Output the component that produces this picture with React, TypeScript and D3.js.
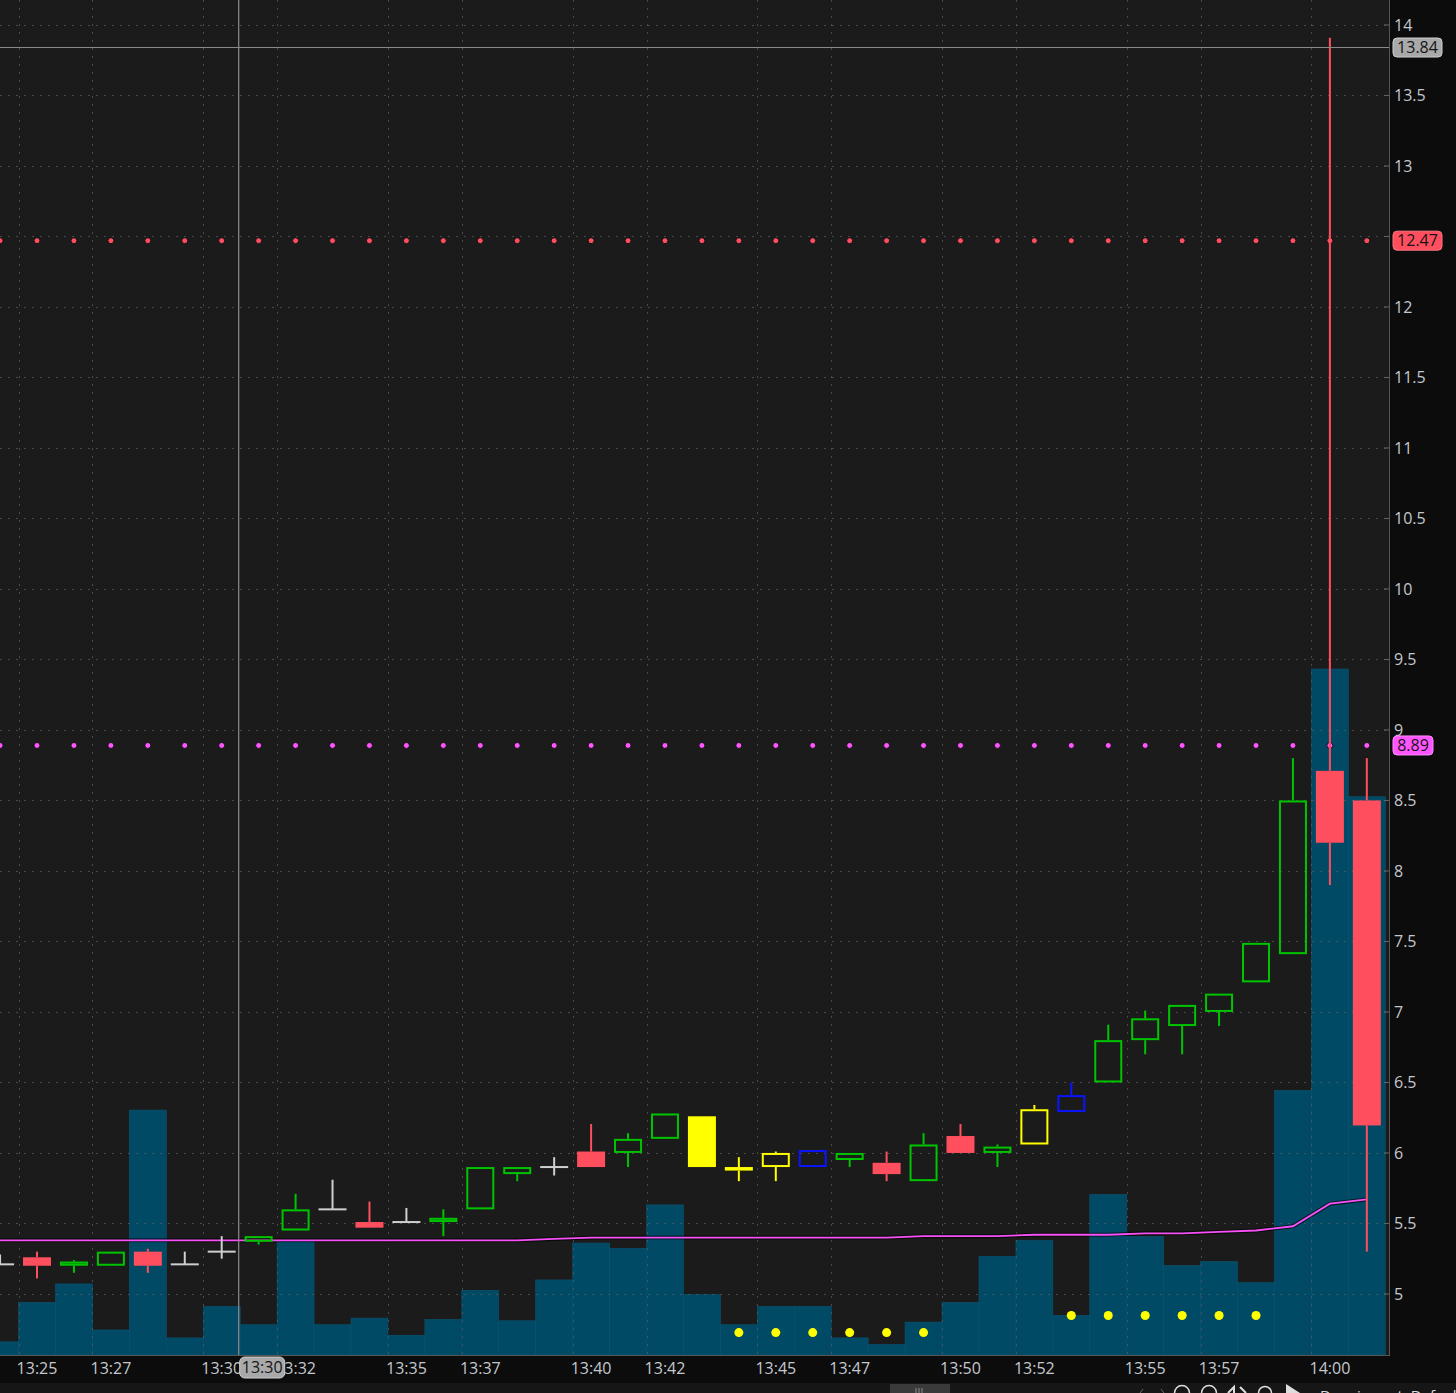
import React from "react";
import * as d3 from "d3";

// one bar per minute, 13:24 .. 14:01
const minutes = [
  "13:24", "13:25", "13:26", "13:27", "13:28", "13:29", "13:30", "13:31", "13:32", "13:33",
  "13:34", "13:35", "13:36", "13:37", "13:38", "13:39", "13:40", "13:41", "13:42", "13:43",
  "13:44", "13:45", "13:46", "13:47", "13:48", "13:49", "13:50", "13:51", "13:52", "13:53",
  "13:54", "13:55", "13:56", "13:57", "13:58", "13:59", "14:00", "14:01",
];
const opens = [
  5.21, 5.26, 5.2, 5.2, 5.3, 5.21, 5.3, 5.37, 5.45, 5.6,
  5.51, 5.51, 5.51, 5.6, 5.85, 5.9, 6.01, 6.0, 6.1, 6.26,
  5.9, 5.9, 5.9, 5.95, 5.93, 5.8, 6.12, 6.0, 6.06, 6.29,
  6.5, 6.8, 6.9, 7.0, 7.21, 7.41, 8.71, 8.5,
];
const highs = [
  5.28, 5.3, 5.24, 5.3, 5.32, 5.3, 5.41, 5.41, 5.71, 5.81,
  5.655, 5.61, 5.6, 5.9, 5.9, 5.97, 6.205, 6.14, 6.28, 6.26,
  5.97, 6.01, 6.02, 6.0, 6.01, 6.14, 6.205, 6.06, 6.34, 6.5,
  6.91, 7.01, 7.05, 7.13, 7.49, 8.8, 13.91, 8.8,
];
const lows = [
  5.21, 5.11, 5.15, 5.2, 5.15, 5.21, 5.25, 5.35, 5.45, 5.6,
  5.47, 5.51, 5.41, 5.6, 5.8, 5.84, 5.9, 5.9, 6.1, 5.9,
  5.8, 5.8, 5.9, 5.9, 5.8, 5.8, 6.0, 5.9, 6.06, 6.29,
  6.5, 6.7, 6.7, 6.9, 7.21, 7.41, 7.9, 5.3,
];
const closes = [
  5.21, 5.2, 5.23, 5.3, 5.2, 5.21, 5.3, 5.41, 5.6, 5.6,
  5.47, 5.51, 5.54, 5.9, 5.9, 5.9, 5.9, 6.1, 6.28, 5.9,
  5.875, 6.0, 6.02, 6.0, 5.85, 6.06, 6.0, 6.045, 6.31, 6.41,
  6.8, 6.955, 7.05, 7.13, 7.49, 8.5, 8.2, 6.195,
];
// g = up, r = down, n = unchanged, y / b = study highlight
const barKinds = [
  "n", "r", "g", "g", "r", "n", "n", "g", "g", "n",
  "r", "n", "g", "g", "g", "n", "r", "g", "g", "y",
  "y", "y", "b", "g", "r", "g", "r", "g", "y", "b",
  "g", "g", "g", "g", "g", "g", "r", "r",
];
// volume, thousands of shares
const volumes = [
  10, 40, 54, 19, 186, 13, 37, 23, 87, 23,
  28, 15, 27, 49, 26, 57, 85, 81, 114, 46,
  23, 37, 37, 13, 8, 25, 40, 75, 87, 30,
  122, 90, 68, 71, 55, 201, 521, 424,
];
// moving average (magenta)
const avgLine = [
  5.38, 5.38, 5.38, 5.38, 5.38, 5.38, 5.38, 5.38, 5.38, 5.38,
  5.38, 5.38, 5.38, 5.38, 5.38, 5.39, 5.4, 5.4, 5.4, 5.4,
  5.4, 5.4, 5.4, 5.4, 5.4, 5.41, 5.41, 5.41, 5.42, 5.42,
  5.42, 5.43, 5.43, 5.44, 5.45, 5.48, 5.64, 5.67,
];
// low-volume markers
const markerMinutes = [
  "13:44", "13:45", "13:46", "13:47", "13:48", "13:49",
  "13:53", "13:54", "13:55", "13:56", "13:57", "13:58",
];
const markerLevels = [17, 17, 17, 17, 17, 17, 30, 30, 30, 30, 30, 30];

const timeLabels = [
  "13:25", "13:27", "13:30", "13:32", "13:35", "13:37", "13:40", "13:42",
  "13:45", "13:47", "13:50", "13:52", "13:55", "13:57", "14:00",
];
const levelPrices = [12.47, 8.89];
const crossPrice = 13.84;
const crossMinute = "13:30";

const W = 1456;
const H = 1393;
const plotRight = 1389;
const plotBottom = 1355;
const font = "'Open Sans', 'DejaVu Sans', sans-serif";

const kindColor = {
  g: "#00c400",
  r: "#ff4f5e",
  n: "#cfcfcf",
  y: "#ffff00",
  b: "#0a14ff",
};
const levelColors = ["#ff4f5e", "#ff55ff"];

export default function App() {
  const x = d3.scaleBand().domain(minutes).range([-18.4, 1385.3]).padding(0);
  const bw = x.bandwidth();
  const cx = (m) => x(m) + bw / 2;
  const y = d3.scaleLinear().domain([4.567, 14.177]).range([plotBottom, 0]);
  const v = d3.scaleLinear().domain([0, 600]).range([plotBottom, plotBottom - 790]);
  // a tick whose label sits fully under a price box is not shown
  const priceTicks = y.ticks(20);
  const hiddenTicks = priceTicks.filter((t) => levelPrices.some((p) => Math.abs(y(t) - y(p)) < 5));

  const avgPath = d3
    .line()
    .x((_, i) => cx(minutes[i]))
    .y((d) => y(d))(avgLine);

  const crossX = cx(crossMinute) + 17;
  const crossY = y(crossPrice);

  const priceBox = (p, fill, stroke) => {
    const label = p.toFixed(2);
    const w = label.length > 4 ? 49 : 40;
    return (
      <g key={"box" + p}>
        <rect x={1393} y={y(p) - 9.5} width={w} height={19} rx={4} fill={fill} stroke={stroke} />
        <text x={1393 + w / 2} y={y(p)} dy="0.35em" textAnchor="middle" fontSize={16} fill="#151515">
          {label}
        </text>
      </g>
    );
  };

  return (
    <svg
      width={W}
      height={H}
      style={{ position: "absolute", left: 0, top: 0, display: "block" }}
      fontFamily={font}
    >
      <defs>
        <clipPath id="plot">
          <rect x={0} y={0} width={plotRight} height={plotBottom} />
        </clipPath>
        <clipPath id="page">
          <rect x={0} y={0} width={W} height={H} />
        </clipPath>
      </defs>
      <rect x={0} y={0} width={W} height={H} fill="#0c0c0c" />
      <rect x={0} y={0} width={plotRight} height={plotBottom} fill="#1b1b1b" />

      <g clipPath="url(#plot)">
        {/* volume */}
        {minutes.map((m, i) => (
          <rect
            key={"v" + m}
            x={x(m)}
            y={v(volumes[i])}
            width={bw}
            height={plotBottom - v(volumes[i])}
            fill="#004a66"
            stroke="#0b5572"
            strokeWidth={0.6}
          />
        ))}

        {/* grid */}
        {priceTicks.map((t) => (
          <line
            key={"gy" + t}
            x1={0}
            x2={plotRight}
            y1={Math.round(y(t)) + 0.5}
            y2={Math.round(y(t)) + 0.5}
            stroke="#5c5c5c"
            strokeOpacity={0.7}
            strokeDasharray="2,6"
          />
        ))}
        {timeLabels.map((m) => (
          <line
            key={"gx" + m}
            x1={Math.round(x(m)) + 0.5}
            x2={Math.round(x(m)) + 0.5}
            y1={0}
            y2={plotBottom}
            stroke="#5c5c5c"
            strokeOpacity={0.7}
            strokeDasharray="2,6"
          />
        ))}

        {/* low-volume markers */}
        {markerMinutes.map((m, i) => (
          <circle key={"mk" + m} cx={cx(m)} cy={v(markerLevels[i])} r={4.5} fill="#ffff00" />
        ))}

        {/* moving average */}
        <path d={avgPath} fill="none" stroke="#000" strokeWidth={4} strokeOpacity={0.6} />
        <path d={avgPath} fill="none" stroke="#f850f8" strokeWidth={1.8} />

        {/* level dots */}
        {levelPrices.map((p, li) =>
          minutes.map((m) => (
            <circle
              key={"lv" + li + m}
              cx={cx(m)}
              cy={y(p)}
              r={3}
              fill={levelColors[li]}
              stroke="#111"
              strokeWidth={1}
            />
          ))
        )}

        {/* candles */}
        {minutes.map((m, i) => {
          const o = opens[i];
          const c = closes[i];
          const col = kindColor[barKinds[i]];
          const top = y(Math.max(o, c));
          const bot = y(Math.min(o, c));
          const xc = cx(m);
          const filled = c < o;
          const flat = o === c;
          return (
            <g key={"c" + m}>
              {y(highs[i]) < top - 0.5 && (
                <line x1={xc} x2={xc} y1={y(highs[i])} y2={top} stroke={col} strokeWidth={2} />
              )}
              {y(lows[i]) > bot + 0.5 && (
                <line x1={xc} x2={xc} y1={bot} y2={y(lows[i])} stroke={col} strokeWidth={2} />
              )}
              {flat ? (
                <line x1={xc - 14} x2={xc + 14} y1={top} y2={top} stroke={col} strokeWidth={2} />
              ) : filled ? (
                <rect x={xc - 14} y={top} width={28} height={Math.max(bot - top, 3)} fill={col} />
              ) : (
                <rect
                  x={xc - 13}
                  y={top + 1}
                  width={26}
                  height={Math.max(bot - top - 2, 1)}
                  fill="none"
                  stroke={col}
                  strokeWidth={2}
                />
              )}
            </g>
          );
        })}

        {/* crosshair */}
        <line x1={0} x2={plotRight} y1={crossY} y2={crossY} stroke="#8c8c8c" strokeWidth={1} />
        <line x1={crossX} x2={crossX} y1={0} y2={plotBottom} stroke="#8c8c8c" strokeWidth={1.2} />
      </g>

      {/* axes frame */}
      <line x1={plotRight + 0.5} x2={plotRight + 0.5} y1={0} y2={plotBottom + 1} stroke="#555" />
      <line x1={0} x2={plotRight} y1={plotBottom + 0.5} y2={plotBottom + 0.5} stroke="#555" />

      {/* price axis */}
      {priceTicks.map((t) => (
        <g key={"py" + t}>
          <line x1={plotRight - 5} x2={plotRight} y1={y(t)} y2={y(t)} stroke="#666" />
          {!hiddenTicks.includes(t) && (
            <text x={1394} y={y(t)} dy="0.35em" fontSize={16} fill="#c4c8cc">
              {String(t)}
            </text>
          )}
        </g>
      ))}
      {priceBox(levelPrices[0], levelColors[0], "#ff7380")}
      {priceBox(levelPrices[1], levelColors[1], "#ff88ff")}
      {priceBox(crossPrice, "#a9a9a9", "#cfcfcf")}

      {/* time axis */}
      {timeLabels.map((m) => (
        <text key={"tx" + m} x={cx(m)} y={1368} dy="0.35em" textAnchor="middle" fontSize={16} fill="#c4c8cc">
          {m}
        </text>
      ))}
      <rect x={crossX + 1} y={1357} width={45} height={21} rx={5} fill="#a9a9a9" stroke="#cfcfcf" />
      <text x={crossX + 23.5} y={1367.5} dy="0.35em" textAnchor="middle" fontSize={16} fill="#151515">
        {crossMinute}
      </text>

      {/* bottom toolbar (cut off by the page edge) */}
      <g clipPath="url(#page)">
        <rect x={0} y={1383} width={W} height={10} fill="#161616" />
        <rect x={890} y={1384} width={60} height={9} fill="#3a3a3a" />
        <path d="M916,1388v5M919,1388v5M922,1388v5" stroke="#888" />
        <path d="M1140,1393l3,-4M1161,1389l3,4" stroke="#666" />
        <circle cx={1182} cy={1393} r={7.5} fill="none" stroke="#ddd" strokeWidth={1.5} />
        <circle cx={1209} cy={1393} r={7.5} fill="none" stroke="#ddd" strokeWidth={1.5} />
        <path d="M1228,1393l6,-6v6M1240,1387l6,6" stroke="#ddd" strokeWidth={2} fill="none" />
        <circle cx={1265} cy={1393} r={6.5} fill="none" stroke="#ddd" strokeWidth={1.5} />
        <path d="M1286,1384l14,9h-14z" fill="#ddd" />
        <text x={1320} y={1401} fontSize={15} fill="#ddd">
          Drawing set: Default
        </text>
      </g>
    </svg>
  );
}
